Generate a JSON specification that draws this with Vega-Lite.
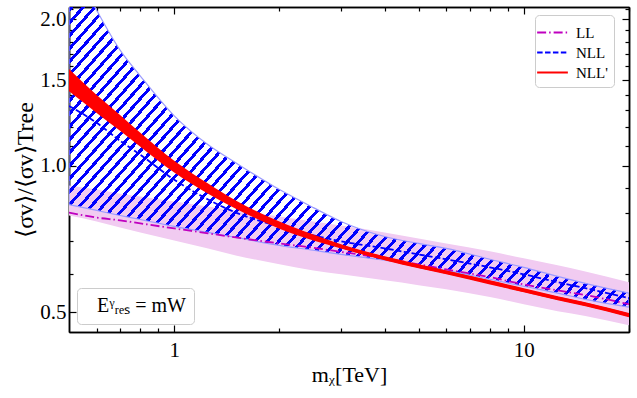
{
"$schema": "https://vega.github.io/schema/vega-lite/v6.json",
"width": 560, "height": 325,
"autosize": {"type": "none"},
"padding": {"left": 69, "top": 7, "right": 8, "bottom": 66},
"background": "white",
"config": {
  "view": {"stroke": null},
  "axis": {"domainColor": "black", "domainWidth": 1.5, "tickColor": "black", "tickWidth": 1.2, "labelFont": "Liberation Serif", "labelFontSize": 21, "labelColor": "black", "titleFont": "Liberation Serif", "titleFontSize": 22, "titleFontWeight": "normal", "titleColor": "black", "grid": false, "zindex": 1, "labelFlush": false, "labelOverlap": false}
},
"datasets": {
  "bands": [
    {"x":0.5,"ll_lo":0.790,"ll_hi":0.910,"nll_lo":0.832,"nll_hi":2.70,"nlp_lo":1.422,"nlp_hi":1.580},
    {"x":0.6,"ll_lo":0.768,"ll_hi":0.893,"nll_lo":0.809,"nll_hi":2.087,"nlp_lo":1.284,"nlp_hi":1.398},
    {"x":0.7,"ll_lo":0.746,"ll_hi":0.876,"nll_lo":0.790,"nll_hi":1.728,"nlp_lo":1.180,"nlp_hi":1.272},
    {"x":0.8,"ll_lo":0.729,"ll_hi":0.864,"nll_lo":0.775,"nll_hi":1.529,"nlp_lo":1.094,"nlp_hi":1.169},
    {"x":1,"ll_lo":0.702,"ll_hi":0.844,"nll_lo":0.750,"nll_hi":1.266,"nlp_lo":0.968,"nlp_hi":1.024},
    {"x":1.25,"ll_lo":0.676,"ll_hi":0.824,"nll_lo":0.729,"nll_hi":1.104,"nlp_lo":0.876,"nlp_hi":0.919},
    {"x":1.5,"ll_lo":0.654,"ll_hi":0.809,"nll_lo":0.712,"nll_hi":1.014,"nlp_lo":0.816,"nlp_hi":0.848},
    {"x":2,"ll_lo":0.627,"ll_hi":0.786,"nll_lo":0.686,"nll_hi":0.893,"nlp_lo":0.742,"nlp_hi":0.768},
    {"x":2.5,"ll_lo":0.609,"ll_hi":0.768,"nll_lo":0.670,"nll_hi":0.820,"nlp_lo":0.702,"nlp_hi":0.722},
    {"x":3,"ll_lo":0.598,"ll_hi":0.753,"nll_lo":0.657,"nll_hi":0.768,"nlp_lo":0.676,"nlp_hi":0.689},
    {"x":4,"ll_lo":0.581,"ll_hi":0.729,"nll_lo":0.639,"nll_hi":0.715,"nlp_lo":0.639,"nlp_hi":0.651},
    {"x":5,"ll_lo":0.568,"ll_hi":0.708,"nll_lo":0.624,"nll_hi":0.692,"nlp_lo":0.615,"nlp_hi":0.627},
    {"x":6,"ll_lo":0.557,"ll_hi":0.692,"nll_lo":0.609,"nll_hi":0.676,"nlp_lo":0.598,"nlp_hi":0.609},
    {"x":8,"ll_lo":0.537,"ll_hi":0.667,"nll_lo":0.584,"nll_hi":0.642,"nlp_lo":0.570,"nlp_hi":0.581},
    {"x":10,"ll_lo":0.519,"ll_hi":0.645,"nll_lo":0.565,"nll_hi":0.618,"nlp_lo":0.549,"nlp_hi":0.560},
    {"x":12.5,"ll_lo":0.502,"ll_hi":0.624,"nll_lo":0.547,"nll_hi":0.592,"nlp_lo":0.529,"nlp_hi":0.539},
    {"x":15,"ll_lo":0.491,"ll_hi":0.606,"nll_lo":0.531,"nll_hi":0.573,"nlp_lo":0.514,"nlp_hi":0.524},
    {"x":20,"ll_lo":0.470,"ll_hi":0.576,"nll_lo":0.512,"nll_hi":0.547,"nlp_lo":0.488,"nlp_hi":0.498}
  ],
  "lines": [
    {"x":0.5,"series":"LL","y":0.801},{"x":0.6,"series":"LL","y":0.782},{"x":0.7,"series":"LL","y":0.772},{"x":0.8,"series":"LL","y":0.761},{"x":1,"series":"LL","y":0.743},{"x":1.25,"series":"LL","y":0.726},{"x":1.5,"series":"LL","y":0.712},{"x":2,"series":"LL","y":0.692},{"x":2.5,"series":"LL","y":0.678},{"x":3,"series":"LL","y":0.665},{"x":4,"series":"LL","y":0.645},{"x":5,"series":"LL","y":0.627},{"x":6,"series":"LL","y":0.612},{"x":8,"series":"LL","y":0.590},{"x":10,"series":"LL","y":0.570},{"x":12.5,"series":"LL","y":0.554},{"x":15,"series":"LL","y":0.542},{"x":20,"series":"LL","y":0.519},
    {"x":0.5,"series":"NLL","y":1.327},{"x":0.6,"series":"NLL","y":1.225},{"x":0.7,"series":"NLL","y":1.125},{"x":0.8,"series":"NLL","y":1.053},{"x":1,"series":"NLL","y":0.936},{"x":1.25,"series":"NLL","y":0.852},{"x":1.5,"series":"NLL","y":0.801},{"x":2,"series":"NLL","y":0.750},{"x":2.5,"series":"NLL","y":0.719},{"x":3,"series":"NLL","y":0.699},{"x":4,"series":"NLL","y":0.676},{"x":5,"series":"NLL","y":0.657},{"x":6,"series":"NLL","y":0.642},{"x":8,"series":"NLL","y":0.618},{"x":10,"series":"NLL","y":0.598},{"x":12.5,"series":"NLL","y":0.576},{"x":15,"series":"NLL","y":0.560},{"x":20,"series":"NLL","y":0.534},
    {"x":0.5,"series":"NLL'","y":1.500},{"x":0.6,"series":"NLL'","y":1.340},{"x":0.7,"series":"NLL'","y":1.225},{"x":0.8,"series":"NLL'","y":1.131},{"x":1,"series":"NLL'","y":0.995},{"x":1.25,"series":"NLL'","y":0.897},{"x":1.5,"series":"NLL'","y":0.832},{"x":2,"series":"NLL'","y":0.755},{"x":2.5,"series":"NLL'","y":0.712},{"x":3,"series":"NLL'","y":0.682},{"x":4,"series":"NLL'","y":0.645},{"x":5,"series":"NLL'","y":0.621},{"x":6,"series":"NLL'","y":0.604},{"x":8,"series":"NLL'","y":0.576},{"x":10,"series":"NLL'","y":0.554},{"x":12.5,"series":"NLL'","y":0.534},{"x":15,"series":"NLL'","y":0.519},{"x":20,"series":"NLL'","y":0.493}
  ],
  "note": [{"x":1,"y":1,"label":"Eᵞᵣₑₛ = mW"}]
},
"resolve": {"axis": {"x": "independent", "y": "independent"}},
"layer": [
  {
    "data": {"name": "bands"},
    "mark": {"type": "area", "fill": "#f1cbf1", "interpolate": "monotone", "clip": true},
    "encoding": {
      "x": {"field": "x", "type": "quantitative", "scale": {"type": "log", "domain": [0.5, 20], "nice": false},
            "axis": {"orient": "bottom", "values": [1, 10], "tickSize": -7, "labelPadding": 14, "labelExpr": "format(datum.value, 'd')", "title": "mᵪ[TeV]", "titlePadding": 4}},
      "y": {"field": "ll_hi", "type": "quantitative", "scale": {"type": "log", "domain": [0.455, 2.12], "nice": false, "zero": false},
            "axis": {"orient": "left", "values": [0.5, 1, 1.5, 2], "tickSize": -7, "labelPadding": 10, "labelExpr": "format(datum.value, '.1f')", "title": "⟨σv⟩/⟨σv⟩Tree", "titleFontSize": 24, "titlePadding": 2}},
      "y2": {"field": "ll_lo"}
    }
  },
  {
    "data": {"name": "bands"},
    "mark": {"type": "area", "interpolate": "monotone", "clip": true, "stroke": "#9a9aff", "strokeWidth": 1.2,
      "fill": {"gradient": "linear", "x1": 0, "y1": 0, "x2": 1.2566, "y2": 0.6967, "stops": [
{"offset":0,"color":"#00f"},{"offset":0.0044,"color":"#00f"},{"offset":0.0044,"color":"#00f0"},{"offset":0.0125,"color":"#00f0"},
{"offset":0.0125,"color":"#00f"},{"offset":0.0169,"color":"#00f"},{"offset":0.0169,"color":"#00f0"},{"offset":0.025,"color":"#00f0"},
{"offset":0.025,"color":"#00f"},{"offset":0.0294,"color":"#00f"},{"offset":0.0294,"color":"#00f0"},{"offset":0.0375,"color":"#00f0"},
{"offset":0.0375,"color":"#00f"},{"offset":0.0419,"color":"#00f"},{"offset":0.0419,"color":"#00f0"},{"offset":0.05,"color":"#00f0"},
{"offset":0.05,"color":"#00f"},{"offset":0.0544,"color":"#00f"},{"offset":0.0544,"color":"#00f0"},{"offset":0.0625,"color":"#00f0"},
{"offset":0.0625,"color":"#00f"},{"offset":0.0669,"color":"#00f"},{"offset":0.0669,"color":"#00f0"},{"offset":0.075,"color":"#00f0"},
{"offset":0.075,"color":"#00f"},{"offset":0.0794,"color":"#00f"},{"offset":0.0794,"color":"#00f0"},{"offset":0.0875,"color":"#00f0"},
{"offset":0.0875,"color":"#00f"},{"offset":0.0919,"color":"#00f"},{"offset":0.0919,"color":"#00f0"},{"offset":0.1,"color":"#00f0"},
{"offset":0.1,"color":"#00f"},{"offset":0.1044,"color":"#00f"},{"offset":0.1044,"color":"#00f0"},{"offset":0.1125,"color":"#00f0"},
{"offset":0.1125,"color":"#00f"},{"offset":0.1169,"color":"#00f"},{"offset":0.1169,"color":"#00f0"},{"offset":0.125,"color":"#00f0"},
{"offset":0.125,"color":"#00f"},{"offset":0.1294,"color":"#00f"},{"offset":0.1294,"color":"#00f0"},{"offset":0.1375,"color":"#00f0"},
{"offset":0.1375,"color":"#00f"},{"offset":0.1419,"color":"#00f"},{"offset":0.1419,"color":"#00f0"},{"offset":0.15,"color":"#00f0"},
{"offset":0.15,"color":"#00f"},{"offset":0.1544,"color":"#00f"},{"offset":0.1544,"color":"#00f0"},{"offset":0.1625,"color":"#00f0"},
{"offset":0.1625,"color":"#00f"},{"offset":0.1669,"color":"#00f"},{"offset":0.1669,"color":"#00f0"},{"offset":0.175,"color":"#00f0"},
{"offset":0.175,"color":"#00f"},{"offset":0.1794,"color":"#00f"},{"offset":0.1794,"color":"#00f0"},{"offset":0.1875,"color":"#00f0"},
{"offset":0.1875,"color":"#00f"},{"offset":0.1919,"color":"#00f"},{"offset":0.1919,"color":"#00f0"},{"offset":0.2,"color":"#00f0"},
{"offset":0.2,"color":"#00f"},{"offset":0.2044,"color":"#00f"},{"offset":0.2044,"color":"#00f0"},{"offset":0.2125,"color":"#00f0"},
{"offset":0.2125,"color":"#00f"},{"offset":0.2169,"color":"#00f"},{"offset":0.2169,"color":"#00f0"},{"offset":0.225,"color":"#00f0"},
{"offset":0.225,"color":"#00f"},{"offset":0.2294,"color":"#00f"},{"offset":0.2294,"color":"#00f0"},{"offset":0.2375,"color":"#00f0"},
{"offset":0.2375,"color":"#00f"},{"offset":0.2419,"color":"#00f"},{"offset":0.2419,"color":"#00f0"},{"offset":0.25,"color":"#00f0"},
{"offset":0.25,"color":"#00f"},{"offset":0.2544,"color":"#00f"},{"offset":0.2544,"color":"#00f0"},{"offset":0.2625,"color":"#00f0"},
{"offset":0.2625,"color":"#00f"},{"offset":0.2669,"color":"#00f"},{"offset":0.2669,"color":"#00f0"},{"offset":0.275,"color":"#00f0"},
{"offset":0.275,"color":"#00f"},{"offset":0.2794,"color":"#00f"},{"offset":0.2794,"color":"#00f0"},{"offset":0.2875,"color":"#00f0"},
{"offset":0.2875,"color":"#00f"},{"offset":0.2919,"color":"#00f"},{"offset":0.2919,"color":"#00f0"},{"offset":0.3,"color":"#00f0"},
{"offset":0.3,"color":"#00f"},{"offset":0.3044,"color":"#00f"},{"offset":0.3044,"color":"#00f0"},{"offset":0.3125,"color":"#00f0"},
{"offset":0.3125,"color":"#00f"},{"offset":0.3169,"color":"#00f"},{"offset":0.3169,"color":"#00f0"},{"offset":0.325,"color":"#00f0"},
{"offset":0.325,"color":"#00f"},{"offset":0.3294,"color":"#00f"},{"offset":0.3294,"color":"#00f0"},{"offset":0.3375,"color":"#00f0"},
{"offset":0.3375,"color":"#00f"},{"offset":0.3419,"color":"#00f"},{"offset":0.3419,"color":"#00f0"},{"offset":0.35,"color":"#00f0"},
{"offset":0.35,"color":"#00f"},{"offset":0.3544,"color":"#00f"},{"offset":0.3544,"color":"#00f0"},{"offset":0.3625,"color":"#00f0"},
{"offset":0.3625,"color":"#00f"},{"offset":0.3669,"color":"#00f"},{"offset":0.3669,"color":"#00f0"},{"offset":0.375,"color":"#00f0"},
{"offset":0.375,"color":"#00f"},{"offset":0.3794,"color":"#00f"},{"offset":0.3794,"color":"#00f0"},{"offset":0.3875,"color":"#00f0"},
{"offset":0.3875,"color":"#00f"},{"offset":0.3919,"color":"#00f"},{"offset":0.3919,"color":"#00f0"},{"offset":0.4,"color":"#00f0"},
{"offset":0.4,"color":"#00f"},{"offset":0.4044,"color":"#00f"},{"offset":0.4044,"color":"#00f0"},{"offset":0.4125,"color":"#00f0"},
{"offset":0.4125,"color":"#00f"},{"offset":0.4169,"color":"#00f"},{"offset":0.4169,"color":"#00f0"},{"offset":0.425,"color":"#00f0"},
{"offset":0.425,"color":"#00f"},{"offset":0.4294,"color":"#00f"},{"offset":0.4294,"color":"#00f0"},{"offset":0.4375,"color":"#00f0"},
{"offset":0.4375,"color":"#00f"},{"offset":0.4419,"color":"#00f"},{"offset":0.4419,"color":"#00f0"},{"offset":0.45,"color":"#00f0"},
{"offset":0.45,"color":"#00f"},{"offset":0.4544,"color":"#00f"},{"offset":0.4544,"color":"#00f0"},{"offset":0.4625,"color":"#00f0"},
{"offset":0.4625,"color":"#00f"},{"offset":0.4669,"color":"#00f"},{"offset":0.4669,"color":"#00f0"},{"offset":0.475,"color":"#00f0"},
{"offset":0.475,"color":"#00f"},{"offset":0.4794,"color":"#00f"},{"offset":0.4794,"color":"#00f0"},{"offset":0.4875,"color":"#00f0"},
{"offset":0.4875,"color":"#00f"},{"offset":0.4919,"color":"#00f"},{"offset":0.4919,"color":"#00f0"},{"offset":0.5,"color":"#00f0"},
{"offset":0.5,"color":"#00f"},{"offset":0.5044,"color":"#00f"},{"offset":0.5044,"color":"#00f0"},{"offset":0.5125,"color":"#00f0"},
{"offset":0.5125,"color":"#00f"},{"offset":0.5169,"color":"#00f"},{"offset":0.5169,"color":"#00f0"},{"offset":0.525,"color":"#00f0"},
{"offset":0.525,"color":"#00f"},{"offset":0.5294,"color":"#00f"},{"offset":0.5294,"color":"#00f0"},{"offset":0.5375,"color":"#00f0"},
{"offset":0.5375,"color":"#00f"},{"offset":0.5419,"color":"#00f"},{"offset":0.5419,"color":"#00f0"},{"offset":0.55,"color":"#00f0"},
{"offset":0.55,"color":"#00f"},{"offset":0.5544,"color":"#00f"},{"offset":0.5544,"color":"#00f0"},{"offset":0.5625,"color":"#00f0"},
{"offset":0.5625,"color":"#00f"},{"offset":0.5669,"color":"#00f"},{"offset":0.5669,"color":"#00f0"},{"offset":0.575,"color":"#00f0"},
{"offset":0.575,"color":"#00f"},{"offset":0.5794,"color":"#00f"},{"offset":0.5794,"color":"#00f0"},{"offset":0.5875,"color":"#00f0"},
{"offset":0.5875,"color":"#00f"},{"offset":0.5919,"color":"#00f"},{"offset":0.5919,"color":"#00f0"},{"offset":0.6,"color":"#00f0"},
{"offset":0.6,"color":"#00f"},{"offset":0.6044,"color":"#00f"},{"offset":0.6044,"color":"#00f0"},{"offset":0.6125,"color":"#00f0"},
{"offset":0.6125,"color":"#00f"},{"offset":0.6169,"color":"#00f"},{"offset":0.6169,"color":"#00f0"},{"offset":0.625,"color":"#00f0"},
{"offset":0.625,"color":"#00f"},{"offset":0.6294,"color":"#00f"},{"offset":0.6294,"color":"#00f0"},{"offset":0.6375,"color":"#00f0"},
{"offset":0.6375,"color":"#00f"},{"offset":0.6419,"color":"#00f"},{"offset":0.6419,"color":"#00f0"},{"offset":0.65,"color":"#00f0"},
{"offset":0.65,"color":"#00f"},{"offset":0.6544,"color":"#00f"},{"offset":0.6544,"color":"#00f0"},{"offset":0.6625,"color":"#00f0"},
{"offset":0.6625,"color":"#00f"},{"offset":0.6669,"color":"#00f"},{"offset":0.6669,"color":"#00f0"},{"offset":0.675,"color":"#00f0"},
{"offset":0.675,"color":"#00f"},{"offset":0.6794,"color":"#00f"},{"offset":0.6794,"color":"#00f0"},{"offset":0.6875,"color":"#00f0"},
{"offset":0.6875,"color":"#00f"},{"offset":0.6919,"color":"#00f"},{"offset":0.6919,"color":"#00f0"},{"offset":0.7,"color":"#00f0"},
{"offset":0.7,"color":"#00f"},{"offset":0.7044,"color":"#00f"},{"offset":0.7044,"color":"#00f0"},{"offset":0.7125,"color":"#00f0"},
{"offset":0.7125,"color":"#00f"},{"offset":0.7169,"color":"#00f"},{"offset":0.7169,"color":"#00f0"},{"offset":0.725,"color":"#00f0"},
{"offset":0.725,"color":"#00f"},{"offset":0.7294,"color":"#00f"},{"offset":0.7294,"color":"#00f0"},{"offset":0.7375,"color":"#00f0"},
{"offset":0.7375,"color":"#00f"},{"offset":0.7419,"color":"#00f"},{"offset":0.7419,"color":"#00f0"},{"offset":0.75,"color":"#00f0"},
{"offset":0.75,"color":"#00f"},{"offset":0.7544,"color":"#00f"},{"offset":0.7544,"color":"#00f0"},{"offset":0.7625,"color":"#00f0"},
{"offset":0.7625,"color":"#00f"},{"offset":0.7669,"color":"#00f"},{"offset":0.7669,"color":"#00f0"},{"offset":0.775,"color":"#00f0"},
{"offset":0.775,"color":"#00f"},{"offset":0.7794,"color":"#00f"},{"offset":0.7794,"color":"#00f0"},{"offset":0.7875,"color":"#00f0"},
{"offset":0.7875,"color":"#00f"},{"offset":0.7919,"color":"#00f"},{"offset":0.7919,"color":"#00f0"},{"offset":0.8,"color":"#00f0"},
{"offset":0.8,"color":"#00f"},{"offset":0.8044,"color":"#00f"},{"offset":0.8044,"color":"#00f0"},{"offset":0.8125,"color":"#00f0"},
{"offset":0.8125,"color":"#00f"},{"offset":0.8169,"color":"#00f"},{"offset":0.8169,"color":"#00f0"},{"offset":0.825,"color":"#00f0"},
{"offset":0.825,"color":"#00f"},{"offset":0.8294,"color":"#00f"},{"offset":0.8294,"color":"#00f0"},{"offset":0.8375,"color":"#00f0"},
{"offset":0.8375,"color":"#00f"},{"offset":0.8419,"color":"#00f"},{"offset":0.8419,"color":"#00f0"},{"offset":0.85,"color":"#00f0"},
{"offset":0.85,"color":"#00f"},{"offset":0.8544,"color":"#00f"},{"offset":0.8544,"color":"#00f0"},{"offset":0.8625,"color":"#00f0"},
{"offset":0.8625,"color":"#00f"},{"offset":0.8669,"color":"#00f"},{"offset":0.8669,"color":"#00f0"},{"offset":0.875,"color":"#00f0"},
{"offset":0.875,"color":"#00f"},{"offset":0.8794,"color":"#00f"},{"offset":0.8794,"color":"#00f0"},{"offset":0.8875,"color":"#00f0"},
{"offset":0.8875,"color":"#00f"},{"offset":0.8919,"color":"#00f"},{"offset":0.8919,"color":"#00f0"},{"offset":0.9,"color":"#00f0"},
{"offset":0.9,"color":"#00f"},{"offset":0.9044,"color":"#00f"},{"offset":0.9044,"color":"#00f0"},{"offset":0.9125,"color":"#00f0"},
{"offset":0.9125,"color":"#00f"},{"offset":0.9169,"color":"#00f"},{"offset":0.9169,"color":"#00f0"},{"offset":0.925,"color":"#00f0"},
{"offset":0.925,"color":"#00f"},{"offset":0.9294,"color":"#00f"},{"offset":0.9294,"color":"#00f0"},{"offset":0.9375,"color":"#00f0"},
{"offset":0.9375,"color":"#00f"},{"offset":0.9419,"color":"#00f"},{"offset":0.9419,"color":"#00f0"},{"offset":0.95,"color":"#00f0"},
{"offset":0.95,"color":"#00f"},{"offset":0.9544,"color":"#00f"},{"offset":0.9544,"color":"#00f0"},{"offset":0.9625,"color":"#00f0"},
{"offset":0.9625,"color":"#00f"},{"offset":0.9669,"color":"#00f"},{"offset":0.9669,"color":"#00f0"},{"offset":0.975,"color":"#00f0"},
{"offset":0.975,"color":"#00f"},{"offset":0.9794,"color":"#00f"},{"offset":0.9794,"color":"#00f0"},{"offset":0.9875,"color":"#00f0"},
{"offset":0.9875,"color":"#00f"},{"offset":0.9919,"color":"#00f"},{"offset":0.9919,"color":"#00f0"},{"offset":1,"color":"#00f0"}
      ]}},
    "encoding": {
      "x": {"field": "x", "type": "quantitative", "scale": {"type": "log", "domain": [0.5, 20], "nice": false},
            "axis": {"orient": "bottom", "values": [0.6,0.7,0.8,0.9,2,3,4,5,6,7,8,9,20], "tickSize": -4, "labels": false, "title": null}},
      "y": {"field": "nll_hi", "type": "quantitative", "scale": {"type": "log", "domain": [0.455, 2.12], "nice": false, "zero": false},
            "axis": {"orient": "left", "values": [0.6,0.7,0.8,0.9,1.1,1.2,1.3,1.4,1.6,1.7,1.8,1.9,2.1], "tickSize": -4, "labels": false, "title": null}},
      "y2": {"field": "nll_lo"}
    }
  },
  {
    "data": {"name": "lines"},
    "transform": [{"filter": {"field": "series", "oneOf": ["LL", "NLL"]}}],
    "mark": {"type": "line", "strokeWidth": 1.8, "interpolate": "monotone", "clip": true},
    "encoding": {
      "x": {"field": "x", "type": "quantitative", "scale": {"type": "log", "domain": [0.5, 20], "nice": false},
            "axis": {"orient": "top", "values": [1, 10], "tickSize": -7, "labels": false, "title": null}},
      "y": {"field": "y", "type": "quantitative", "scale": {"type": "log", "domain": [0.455, 2.12], "nice": false, "zero": false},
            "axis": {"orient": "right", "values": [0.5, 1, 1.5, 2], "tickSize": -7, "labels": false, "title": null}},
      "color": {"field": "series", "type": "nominal",
                "scale": {"domain": ["LL", "NLL", "NLL'"], "range": ["#bf00bf", "#0000ff", "#ff0000"]},
                "legend": {"orient": "none", "legendX": 466, "legendY": 8, "title": null, "padding": 6, "symbolType": "M-1.5,0H1.5", "symbolSize": 420, "symbolStrokeWidth": 2, "labelFont": "Liberation Serif", "labelFontSize": 15, "labelColor": "black", "labelOffset": 12, "rowPadding": 0, "strokeColor": "#cccccc", "fillColor": "rgba(255,255,255,0.8)", "cornerRadius": 4}},
      "strokeDash": {"field": "series", "type": "nominal",
                "scale": {"domain": ["LL", "NLL", "NLL'"], "range": [[9, 3, 1.5, 3], [5.5, 2.4], [1, 0]]}}
    }
  },
  {
    "data": {"name": "bands"},
    "mark": {"type": "area", "fill": "#ff0000", "interpolate": "monotone", "clip": true},
    "encoding": {
      "x": {"field": "x", "type": "quantitative", "scale": {"type": "log", "domain": [0.5, 20], "nice": false},
            "axis": {"orient": "top", "values": [0.6,0.7,0.8,0.9,2,3,4,5,6,7,8,9,20], "tickSize": -4, "labels": false, "title": null}},
      "y": {"field": "nlp_hi", "type": "quantitative", "scale": {"type": "log", "domain": [0.455, 2.12], "nice": false, "zero": false},
            "axis": {"orient": "right", "values": [0.6,0.7,0.8,0.9,1.1,1.2,1.3,1.4,1.6,1.7,1.8,1.9,2.1], "tickSize": -4, "labels": false, "title": null}},
      "y2": {"field": "nlp_lo"}
    }
  },
  {
    "data": {"name": "lines"},
    "transform": [{"filter": {"field": "series", "equal": "NLL'"}}],
    "mark": {"type": "line", "strokeWidth": 3, "interpolate": "monotone", "clip": true},
    "encoding": {
      "x": {"field": "x", "type": "quantitative", "axis": null},
      "y": {"field": "y", "type": "quantitative", "axis": null},
      "color": {"field": "series", "type": "nominal"},
      "strokeDash": {"field": "series", "type": "nominal"}
    }
  },
  {
    "data": {"name": "note"},
    "mark": {"type": "point", "opacity": 0},
    "encoding": {
      "x": {"field": "x", "type": "quantitative", "axis": null},
      "y": {"field": "y", "type": "quantitative", "axis": null},
      "shape": {"field": "label", "type": "nominal",
                "legend": {"orient": "bottom-left", "offset": 8, "title": null, "padding": 8, "symbolSize": 0, "symbolOpacity": 0, "labelOffset": -8, "labelFont": "Liberation Serif", "labelFontSize": 20, "labelColor": "black", "strokeColor": "#cccccc", "fillColor": "rgba(255,255,255,0.8)", "cornerRadius": 4}}
    }
  }
]
}
